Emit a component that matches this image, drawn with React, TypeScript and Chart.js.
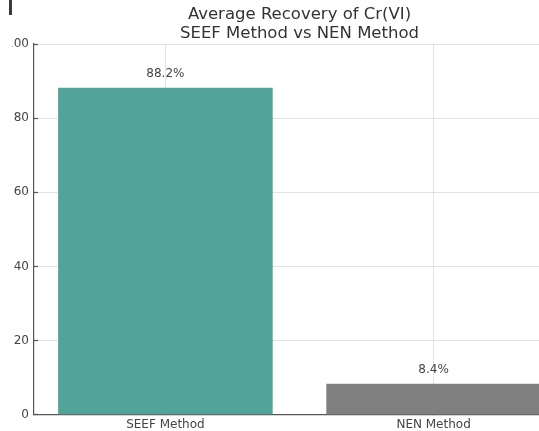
import React, { useEffect, useRef } from "react";
import { Chart, registerables } from "chart.js";

Chart.register(...registerables);

const categories = ["SEEF Method", "NEN Method"];
const recoveryValues = [88.2, 8.4];
const barColors = ["#52a398", "#808080"];
const yTickValues = [0, 20, 40, 60, 80, 100];
const titleLines = ["Average Recovery of Cr(VI)", "SEEF Method vs NEN Method"];

const FONT = "'DejaVu Sans', sans-serif";

const barLabelPlugin = {
  id: "barLabels",
  afterDatasetsDraw(chart: any) {
    const ctx = chart.ctx;
    const meta = chart.getDatasetMeta(0);
    ctx.save();
    ctx.font = `12px ${FONT}`;
    ctx.fillStyle = "#444444";
    ctx.textAlign = "center";
    ctx.textBaseline = "bottom";
    meta.data.forEach((el: any, i: number) => {
      ctx.fillText(recoveryValues[i].toFixed(1) + "%", el.x, el.y - 8);
    });
    ctx.restore();
  },
};

export default function App() {
  const ref = useRef<HTMLCanvasElement | null>(null);

  useEffect(() => {
    if (!ref.current) return;
    const gridColor = "rgba(195,195,195,0.6)";
    const chart = new Chart(ref.current, {
      type: "bar",
      data: {
        datasets: [
          {
            data: recoveryValues.map((v, i) => ({ x: i, y: v })),
            backgroundColor: barColors,
            borderWidth: 0,
            barPercentage: 0.8,
            categoryPercentage: 1.0,
          },
        ],
      },
      options: {
        animation: false,
        responsive: false,
        devicePixelRatio: 1,
        layout: { padding: { left: 0, right: 5, top: 0, bottom: 0 } },
        plugins: {
          legend: { display: false },
          tooltip: { enabled: false },
          title: {
            display: true,
            text: titleLines,
            fullSize: false,
            color: "#333333",
            font: { family: FONT, size: 16.5, weight: "normal", lineHeight: 19 / 16.5 },
            padding: { top: 5, bottom: 1 },
          },
        },
        scales: {
          x: {
            type: "linear",
            min: -0.49,
            max: 1.49,
            offset: false,
            z: 1,
            afterBuildTicks: (s: any) => {
              s.ticks = categories.map((_, i) => ({ value: i }));
            },
            afterFit: (s: any) => {
              s.height = 15;
            },
            ticks: {
              autoSkip: false,
              maxRotation: 0,
              padding: 7,
              color: "#444444",
              font: { family: FONT, size: 12 },
              callback: (v: any) => categories[Math.round(Number(v))] ?? "",
            },
            grid: {
              offset: false,
              color: gridColor,
              lineWidth: 0.8,
              borderDash: [2, 2],
              tickLength: -4,
              tickColor: "#555555",
              tickWidth: 1.2,
              tickBorderDash: [],
            },
            border: { display: true, color: "#555555", width: 1.2 },
          },
          y: {
            type: "linear",
            min: 0,
            max: 100,
            z: 1,
            afterBuildTicks: (s: any) => {
              s.ticks = yTickValues.map((v) => ({ value: v }));
            },
            afterFit: (s: any) => {
              s.width = 64;
            },
            ticks: {
              padding: 9,
              color: "#444444",
              font: { family: FONT, size: 12 },
              callback: (v: any) => String(v),
            },
            grid: {
              color: (c: any) => (c.tick && c.tick.value === 0 ? "rgba(0,0,0,0)" : gridColor),
              lineWidth: 0.8,
              borderDash: [2, 2],
              tickLength: -4,
              tickColor: "#555555",
              tickWidth: 1.2,
              tickBorderDash: [],
            },
            border: { display: true, color: "#555555", width: 1.2 },
          },
        },
      },
      plugins: [barLabelPlugin],
    } as any);
    return () => chart.destroy();
  }, []);

  return (
    <div
      style={{
        position: "fixed",
        left: 0,
        top: 0,
        width: 539,
        height: 431,
        overflow: "hidden",
        background: "#ffffff",
      }}
    >
      <canvas
        ref={ref}
        width={600}
        height={431}
        style={{ position: "absolute", left: -30, top: 0, width: 600, height: 431 }}
      />
      <div
        style={{
          position: "absolute",
          left: 0,
          top: 16,
          width: 12,
          height: 415,
          background: "#ffffff",
        }}
      />
      <div
        style={{
          position: "absolute",
          left: 9,
          top: 0,
          width: 3,
          height: 15,
          background: "#3a3a3a",
        }}
      />
    </div>
  );
}
